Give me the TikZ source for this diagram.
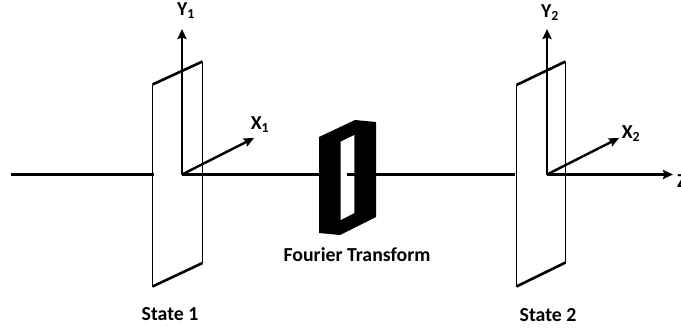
\documentclass[tikz,border=0pt]{standalone}
\usepackage{fontspec}
\setmainfont{Carlito}
\usetikzlibrary{arrows.meta}
\tikzset{
  lab/.style={font=\bfseries\fontsize{19.8}{22}\selectfont, inner sep=0pt, text=black},
  axis/.style={line width=2.4pt, -{Stealth[length=10pt,width=9pt,inset=1.5pt]}},
  beam/.style={line width=2.4pt},
  planeside/.style={line width=1.1pt},
  planeedge/.style={line width=2.6pt},
}
\begin{document}
\begin{tikzpicture}[x=1pt,y=-1pt]
\useasboundingbox (0,0) rectangle (681,330);
% state 1 plane
\coordinate (a1) at (152.5,84.5); \coordinate (b1) at (202.5,61.5);
\coordinate (c1) at (202.5,263); \coordinate (d1) at (152.5,286.5);
\draw[planeside] (a1) -- (d1) (b1) -- (c1);
\draw[planeedge] (a1) -- (b1) (d1) -- (c1);
% state 2 plane
\coordinate (a2) at (516.5,85); \coordinate (b2) at (565.5,61.5);
\coordinate (c2) at (565.5,262.5); \coordinate (d2) at (516.5,286.5);
\draw[planeside] (a2) -- (d2) (b2) -- (c2);
\draw[planeedge] (a2) -- (b2) (d2) -- (c2);
% axes
\coordinate (o1) at (182,174.5); \coordinate (o2) at (547,174.5);
\coordinate (start) at (11,174.5); \coordinate (stop1) at (154,174.5);
\coordinate (y1) at (182,29); \coordinate (x1) at (254,138);
\coordinate (y2) at (547,29); \coordinate (x2) at (619,138);
\coordinate (z) at (673,174.5);
\coordinate (ftin) at (320,174.5); \coordinate (ftout) at (347,174.5);
\coordinate (stop2) at (515,174.5);
\draw[beam] (start) -- (stop1);
\draw[beam] (o1) -- (ftin);
\draw[axis] (o1) -- (y1);
\draw[axis] (o1) -- (x1);
\draw[axis] (o2) -- (y2);
\draw[axis] (o2) -- (x2);
\draw[axis] (o2) -- (z);
% Fourier transform block
\fill[black] (319,137) -- (355,120) -- (376,122) -- (376,217) -- (340,235) -- (319,233) -- cycle;
\fill[white] (340.7,141.7) -- (354.3,135) -- (354.3,213) -- (340.7,220) -- cycle;
\draw[beam] (ftout) -- (stop2);
% labels
\node[lab] (ly1) at (186,11) {Y\textsubscript{1}};
\node[lab] (lx1) at (260,125) {X\textsubscript{1}};
\node[lab] (ly2) at (550,13) {Y\textsubscript{2}};
\node[lab] (lx2) at (631,134) {X\textsubscript{2}};
\node[lab,anchor=west] (lz) at (677,181) {Z};
\node[lab] (ft) at (357,255) {Fourier Transform};
\node[lab] (s1) at (170,314) {State 1};
\node[lab] (s2) at (548,315) {State 2};
\end{tikzpicture}
\end{document}
